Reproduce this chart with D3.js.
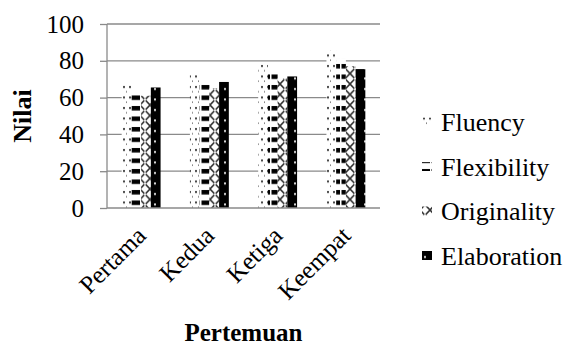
<!DOCTYPE html>
<html><head><meta charset="utf-8">
<script src="https://cdn.jsdelivr.net/npm/d3@7/dist/d3.min.js"></script>
<style>body{margin:0;background:#fff}svg{display:block}</style>
</head><body><svg id="c" width="567" height="347"></svg>
<script>
const categories = ["Pertama", "Kedua", "Ketiga", "Keempat"];
const seriesNames = ["Fluency", "Flexibility", "Originality", "Elaboration"];
const fluency = [67.5, 73.5, 78, 85.5];
const flexibility = [64, 68.5, 73, 81];
const originality = [61, 65, 70.5, 77];
const elaboration = [65.5, 68.5, 71.5, 75.5];
const yTicks = [0, 20, 40, 60, 80, 100];
const series = [fluency, flexibility, originality, elaboration];

const FONT = "'Liberation Serif', 'Times New Roman', Times, serif";
const FS = 25;
const svg = d3.select("#c");
const m = {l: 107, r: 380, t: 24, b: 208};
const defs = svg.append("defs");
// Fluency: sparse dots
let p = defs.append("pattern").attr("id","p0").attr("patternUnits","userSpaceOnUse").attr("width",6).attr("height",10.5);
p.append("rect").attr("width",6).attr("height",10.5).attr("fill","#fff");
p.append("rect").attr("x",3).attr("y",2).attr("width",2).attr("height",2).attr("fill","#444");
p.append("rect").attr("x",0).attr("y",7).attr("width",1).attr("height",1.5).attr("fill","#777");
// Flexibility: horizontal dashes
p = defs.append("pattern").attr("id","p1").attr("patternUnits","userSpaceOnUse").attr("width",10).attr("height",10.5);
p.append("rect").attr("width",10).attr("height",10.5).attr("fill","#fff");
p.append("rect").attr("x",1.5).attr("y",1).attr("width",9).attr("height",4.5).attr("fill","#000");
// Originality: cross-hatch zigzag
p = defs.append("pattern").attr("id","p2").attr("patternUnits","userSpaceOnUse").attr("width",10).attr("height",10.5);
p.append("rect").attr("width",10).attr("height",10.5).attr("fill","#fff");
p.append("path").attr("d","M0,0 L10,10.5 M10,0 L0,10.5").attr("stroke","#333").attr("stroke-width",1.6).attr("fill","none");
p.append("path").attr("d","M4,5.25 L6,5.25").attr("stroke","#fff").attr("stroke-width",2);
// Elaboration: black with white dots
p = defs.append("pattern").attr("id","p3").attr("patternUnits","userSpaceOnUse").attr("width",10).attr("height",10.5);
p.append("rect").attr("width",10).attr("height",10.5).attr("fill","#000");
p.append("rect").attr("x",4).attr("y",4).attr("width",2).attr("height",2).attr("fill","#ddd");

const x = d3.scaleBand().domain(categories).range([m.l, m.r]).paddingInner(0.43).paddingOuter(0.215);
const xs = d3.scaleBand().domain(seriesNames).range([0, x.bandwidth()]);
const y = d3.scaleLinear().domain([0, 100]).range([m.b, m.t]);

// gridlines
svg.append("g").selectAll("line").data(yTicks.filter(d=>d>0)).join("line")
  .attr("x1", m.l).attr("x2", m.r).attr("y1", d=>y(d)).attr("y2", d=>y(d))
  .attr("stroke","#8a8a8a").attr("stroke-width",1.3);

// bars
series.forEach((vals, si) => {
  svg.append("g").selectAll("rect").data(vals).join("rect")
    .attr("x", (d,i)=> x(categories[i]) + xs(seriesNames[si]))
    .attr("width", xs.bandwidth())
    .attr("y", d=>y(d)).attr("height", d=>y(0)-y(d))
    .attr("fill", `url(#p${si})`);
});

// y axis
const ya = svg.append("g").attr("transform",`translate(${m.l},0)`)
  .call(d3.axisLeft(y).tickValues(yTicks).tickSize(7).tickPadding(16));
ya.select(".domain").attr("stroke","#8a8a8a").attr("stroke-width",1.3).attr("d",`M0,${m.t}V${m.b}`);
ya.selectAll(".tick line").attr("stroke","#8a8a8a").attr("stroke-width",1.3);
ya.selectAll("text").attr("font-size",FS).attr("font-family",FONT).attr("fill","#000");

// x axis
svg.append("line").attr("x1",m.l).attr("x2",m.r).attr("y1",m.b).attr("y2",m.b).attr("stroke","#8a8a8a").attr("stroke-width",1.3);
svg.append("g").selectAll("text").data(categories).join("text")
  .attr("transform", d=>`translate(${x(d)+x.bandwidth()/2},${m.b+23}) rotate(-45)`)
  .attr("text-anchor","end").attr("dy","0.35em").attr("font-size",FS).attr("font-family",FONT).text(d=>d);

// titles
svg.append("text").attr("transform",`translate(31,${(m.t+m.b)/2}) rotate(-90)`)
  .attr("text-anchor","middle").attr("font-size",FS+1).attr("font-weight","bold").attr("font-family",FONT).text("Nilai");
svg.append("text").attr("x",(m.l+m.r)/2).attr("y",341).attr("text-anchor","middle")
  .attr("font-size",FS).attr("font-weight","bold").attr("font-family",FONT).text("Pertemuan");

// legend
const lg = svg.append("g");
seriesNames.forEach((n, i) => {
  const ly = 122 + i*44.5;
  lg.append("rect").attr("x",422).attr("y",ly-4.5).attr("width",10).attr("height",9).attr("fill",`url(#p${i})`);
  lg.append("text").attr("x",441).attr("y",ly).attr("dy","0.35em").attr("font-size",FS+1).attr("font-family",FONT).text(n);
});
</script></body></html>
